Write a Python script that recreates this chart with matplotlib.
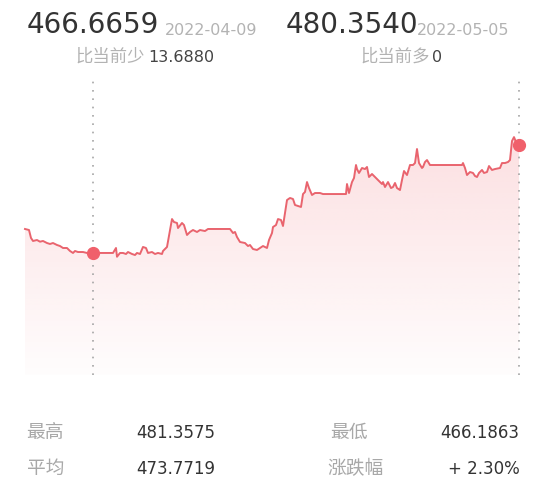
import numpy as np
import matplotlib.pyplot as plt
from matplotlib.colors import to_rgb

# sample positions along the time axis and net values
pos = [0, 4, 6, 8, 12, 15, 18, 22, 25, 28,
       32, 35, 38, 42, 45, 48, 50, 53, 58, 62,
       68, 75, 83, 88, 91, 92, 95, 98, 101, 103,
       107, 110, 112, 115, 118, 121, 123, 127, 130, 133,
       137, 138, 142, 145, 147, 149, 152, 153, 157, 159,
       162, 165, 168, 172, 175, 180, 183, 205, 208, 210,
       212, 215, 220, 223, 225, 228, 232, 235, 238, 242,
       244, 247, 248, 251, 253, 256, 258, 262, 265, 268,
       270, 273, 276, 278, 280, 282, 284, 287, 290, 295,
       298, 321, 322, 324, 327, 329, 331, 332, 334, 337,
       340, 342, 344, 347, 350, 353, 357, 358, 360, 363,
       366, 368, 370, 372, 375, 377, 379, 382, 385, 388,
       390, 392, 394, 397, 398, 400, 402, 405, 437, 438,
       440, 442, 445, 448, 450, 452, 454, 457, 459, 462,
       464, 467, 470, 475, 477, 480, 483, 485, 487, 489,
       491, 494]
nav = [469.71, 469.58, 468.57, 468.19, 468.31, 468.10, 468.19, 467.93, 467.81, 467.93,
       467.68, 467.55, 467.30, 467.30, 466.92, 466.67, 466.92, 466.79, 466.79, 466.67,
       466.6659, 466.67, 466.67, 466.67, 467.30, 466.19, 466.67, 466.67, 466.54, 466.79,
       466.54, 466.41, 466.67, 466.54, 467.43, 467.30, 466.67, 466.79, 466.54, 466.67,
       466.54, 466.92, 467.43, 469.58, 470.97, 470.59, 470.47, 469.83, 470.47, 470.21,
       468.95, 469.33, 469.58, 469.33, 469.58, 469.45, 469.71, 469.71, 469.20, 469.33,
       468.69, 468.06, 467.93, 467.55, 467.68, 467.17, 467.05, 467.30, 467.55, 467.30,
       468.31, 469.20, 469.96, 470.21, 470.97, 470.85, 470.09, 473.38, 473.64, 473.51,
       472.75, 472.62, 472.50, 474.14, 474.40, 475.66, 474.90, 474.02, 474.27, 474.27,
       474.14, 474.14, 475.41, 474.27, 475.66, 476.17, 477.82, 477.31, 476.81, 477.44,
       477.31, 477.57, 476.30, 476.68, 476.30, 475.92, 475.41, 475.66, 475.03, 475.66,
       474.90, 475.03, 475.54, 474.90, 474.65, 475.92, 477.06, 476.55, 477.82, 477.82,
       478.07, 479.85, 478.07, 477.44, 477.57, 478.20, 478.45, 477.82, 477.82, 478.07,
       477.44, 476.55, 476.93, 476.81, 476.43, 476.30, 476.81, 477.19, 476.81, 476.93,
       477.69, 477.19, 477.31, 477.44, 478.07, 478.07, 478.20, 478.45, 480.86, 481.3575,
       480.73, 480.354]

sel_idx = 20  # the selected point (2022-04-09)
sel_date = '2022-04-09'
last_date = '2022-05-05'
diff_label = '比当前少'
diff_value = '13.6880'
last_label = '比当前多'
last_diff = '0'

stat_labels = ['最高', '平均', '最低', '涨跌幅']
stat_values = ['481.3575', '473.7719', '466.1863', '+ 2.30%']

W, H = 554, 484
fig = plt.figure(figsize=(W / 100, H / 100), dpi=100)
fams = ['DejaVu Sans', 'Noto Sans CJK SC']

ax = fig.add_axes([23 / W, 1 - 375 / H, (520 - 23) / W, (375 - 75) / H])
ymin, ymax = 451.2, 489.23
xmin, xmax = -2, 495

# gradient fill under the line
n = 256
rgba = np.zeros((n, 1, 4))
rgba[..., :3] = to_rgb('#f05a64')
rgba[:, 0, 3] = np.linspace(0.015, 0.19, n)
fb = ax.fill_between(pos, nav, ymin, facecolor='none', edgecolor='none')
im = ax.imshow(rgba, extent=[xmin, xmax, ymin, max(nav)], origin='lower',
               aspect='auto', zorder=1, interpolation='bilinear')
im.set_clip_path(fb.get_paths()[0], transform=ax.transData)

ax.plot(pos, nav, color='#e9646e', lw=1.4, zorder=3)

for i in (sel_idx, len(pos) - 1):
    ax.axvline(pos[i], color='#a5a5a5', lw=1.2, linestyle=(0, (1, 4)), zorder=2)
    ax.plot(pos[i], nav[i], 'o', color='#f0606b', ms=8.5, zorder=5, clip_on=False)

ax.set_xlim(xmin, xmax)
ax.set_ylim(ymin, ymax)
ax.axis('off')


def txt(x, y, s, size, color, ha='left'):
    fig.text(x / W, 1 - y / H, s, fontsize=size, color=color, ha=ha,
             va='baseline', family=fams)


# header
txt(27, 33.3, f'{nav[sel_idx]:.4f}', 20, '#333333')
txt(165, 35, sel_date, 11.5, '#b3b3b3')
txt(75, 62, diff_label, 12.5, '#b3b3b3')
txt(148, 62, diff_value, 11.5, '#444444')

txt(286, 33.3, f'{nav[-1]:.4f}', 20, '#333333')
txt(417, 35, last_date, 11.5, '#b3b3b3')
txt(360, 62, last_label, 12.5, '#b3b3b3')
txt(432, 62, last_diff, 11.5, '#444444')

# stats at the bottom
txt(26.5, 438, stat_labels[0], 13.5, '#a8a8a8')
txt(136, 438, stat_values[0], 12, '#333333')
txt(26.5, 474, stat_labels[1], 13.5, '#a8a8a8')
txt(136, 474, stat_values[1], 12, '#333333')
txt(330, 438, stat_labels[2], 13.5, '#a8a8a8')
txt(519.5, 438, stat_values[2], 12, '#333333', ha='right')
txt(327, 474, stat_labels[3], 13.5, '#a8a8a8')
txt(519.5, 474, stat_values[3], 12, '#333333', ha='right')

fig.savefig('out.png', dpi=100)
